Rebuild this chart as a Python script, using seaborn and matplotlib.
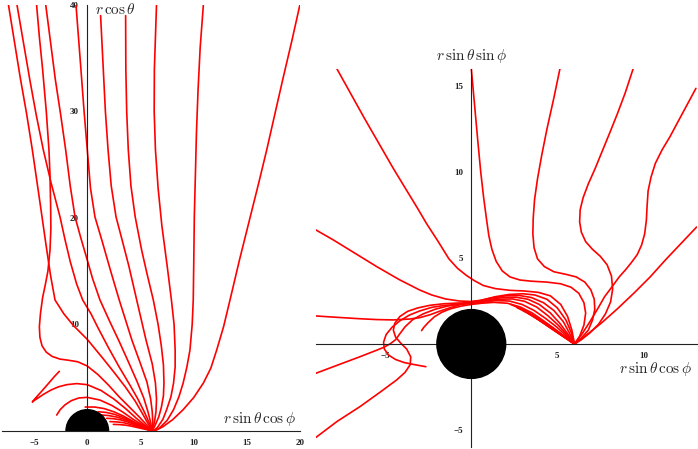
import numpy as np
import pandas as pd
import matplotlib
matplotlib.use('Agg')
import matplotlib.pyplot as plt
import seaborn as sns
from matplotlib.patches import Circle
from matplotlib.ticker import MultipleLocator, FixedLocator

# ── Left panel: r*sin(theta)*cos(phi) vs r*cos(theta) ─────────────────
left_r1 = [(6.1, 0), (6.6, 0.15), (7.1, 0.4), (8.0, 1.05), (9.0, 2.0), (10.0, 3.15),
           (10.9, 4.5), (11.6, 5.9), (12.15, 7.6), (12.8, 9.8), (13.4, 12.3), (14.3, 16.1),
           (15.3, 20.1), (16.1, 23.3), (16.85, 26.4), (17.6, 29.7), (18.4, 33.2),
           (19.2, 36.6), (19.96, 40)]
left_r2 = [(6.1, 0), (6.5, 0.1), (6.8, 0.3), (7.5, 1.0), (8.1, 2.0), (8.6, 3.2), (9.0, 4.5),
           (9.35, 6.0), (9.64, 7.6), (9.85, 10), (9.95, 12.3), (10.0, 16), (10.05, 20.1),
           (10.15, 24), (10.25, 28), (10.4, 32), (10.6, 36), (10.9, 40)]
left_r3 = [(6.1, 0), (6.35, 0.12), (6.6, 0.35), (7.1, 1.1), (7.45, 2.0), (7.85, 3.2),
           (8.1, 4.5), (8.25, 6.0), (8.25, 7.6), (8.15, 10.0), (7.9, 12.3), (7.5, 15.5),
           (7.0, 19.3), (6.65, 22.8), (6.4, 26.4), (6.28, 30), (6.3, 34), (6.4, 37), (6.5, 40)]
left_c7 = [(6.1, 0), (6.4, 0.6), (6.7, 1.3), (6.95, 2.2), (7.15, 3.3), (7.2, 4.5),
           (7.15, 6.2), (6.95, 8.0), (6.65, 10.0), (6.2, 12.3), (5.6, 14.8), (5.1, 17.0),
           (4.5, 20.1), (4.1, 23.0), (3.85, 26.4), (3.7, 30), (3.62, 34), (3.6, 39)]
left_c6 = [(6.1, 0), (6.3, 0.8), (6.45, 1.8), (6.5, 3.0), (6.4, 4.5), (6.1, 6.3),
           (5.5, 8.6), (4.64, 12.3), (3.9, 15.5), (3.2, 18.2), (2.7, 20.1), (2.25, 23),
           (1.95, 26.4), (1.7, 30), (1.5, 34), (1.25, 39)]
left_c5 = [(6.1, 0), (6.15, 0.8), (6.1, 1.8), (5.95, 3.0), (5.6, 4.6), (5.0, 6.3),
           (4.2, 8.5), (3.0, 12.3), (2.2, 15), (1.4, 17.8), (0.72, 20.1), (0.3, 22.8),
           (0, 26.4), (-0.3, 30), (-0.6, 34), (-1.06, 40)]
left_c4 = [(6.1, 0), (5.95, 0.8), (5.7, 1.8), (5.3, 3.1), (4.65, 4.7), (3.9, 6.4),
           (3.0, 8.4), (2.1, 10.3), (1.19, 12.3), (0.5, 14.3), (0, 16.05), (-0.6, 18.1),
           (-1.15, 20.1), (-1.6, 23), (-2.03, 26.4), (-2.5, 29.7), (-3.0, 33),
           (-3.45, 36.5), (-3.9, 40)]
left_c2 = [(6.1, 0), (5.8, 0.8), (5.35, 1.8), (4.75, 3.0), (3.95, 4.4), (3.0, 6.0),
           (2.0, 7.8), (1.0, 9.7), (0.35, 11.0), (-0.43, 12.3), (-1.0, 13.8), (-1.6, 15.9),
           (-2.1, 18.0), (-2.56, 20.1), (-3.4, 23.3), (-4.13, 26.4), (-4.8, 29.7),
           (-5.4, 33), (-6.0, 36.5), (-6.6, 40)]
left_c1 = [(6.1, 0), (5.7, 0.7), (5.2, 1.6), (4.5, 2.8), (3.6, 4.1), (2.6, 5.4), (1.4, 6.9),
           (0, 8.6), (-1.3, 9.9), (-2.2, 11.0), (-3.03, 12.3), (-3.45, 14.6), (-3.85, 17.3),
           (-4.45, 21.5), (-5.16, 26.4), (-5.7, 29.8), (-6.3, 33.2), (-6.85, 36.6),
           (-7.4, 40)]
left_c3 = [(6.1, 0), (5.6, 0.55), (4.9, 1.3), (4.0, 2.2), (3.0, 3.2), (2.0, 4.3),
           (1.0, 5.3), (0, 6.1), (-0.9, 6.5), (-1.8, 6.65), (-2.56, 6.75), (-3.3, 7.0),
           (-3.85, 7.4), (-4.25, 8.0), (-4.45, 8.8), (-4.5, 9.8), (-4.4, 11.0),
           (-4.2, 12.5), (-3.95, 13.7), (-3.7, 15.0), (-3.5, 17), (-3.42, 19),
           (-3.44, 21), (-3.5, 24), (-3.6, 26.4), (-3.85, 30), (-4.2, 34), (-4.5, 37),
           (-4.76, 40)]
left_hook = [(6.1, 0), (5.5, 0.45), (4.6, 1.2), (3.6, 2.1), (2.5, 3.0), (1.3, 3.8),
             (0, 4.35), (-1.0, 4.45), (-1.93, 4.35), (-2.7, 4.15), (-3.4, 3.85),
             (-4.1, 3.45), (-4.7, 3.05), (-5.1, 2.78), (-5.16, 2.72), (-4.9, 3.05),
             (-4.4, 3.6), (-3.7, 4.4), (-3.1, 5.1), (-2.63, 5.6)]
left_ca = [(6.1, 0), (5.3, 0.5), (4.3, 1.1), (3.3, 1.8), (2.3, 2.4), (1.2, 2.9),
           (0, 3.16), (-0.8, 3.1), (-1.5, 2.85), (-2.1, 2.45), (-2.55, 2.0), (-2.87, 1.5)]
left_cb = [(6.1, 0), (5.2, 0.45), (4.3, 0.9), (3.4, 1.4), (2.5, 1.8), (1.6, 2.1),
           (0.7, 2.25), (-0.2, 2.25)]
left_s1 = [(6.1, 0), (5.2, 0.42), (4.4, 0.8), (3.5, 1.22), (2.6, 1.55), (1.8, 1.74), (1.03, 1.81)]
left_s2 = [(6.1, 0), (5.3, 0.36), (4.5, 0.68), (3.6, 1.05), (2.8, 1.3), (2.0, 1.45), (1.35, 1.5)]
left_s3 = [(6.1, 0), (5.3, 0.3), (4.6, 0.55), (3.8, 0.85), (3.1, 1.05), (2.4, 1.16), (1.82, 1.19)]
left_s4 = [(6.1, 0), (5.4, 0.22), (4.8, 0.4), (4.0, 0.63), (3.4, 0.78), (2.7, 0.86), (2.13, 0.88)]
left_s5 = [(6.1, 0), (5.5, 0.15), (4.9, 0.28), (4.2, 0.44), (3.6, 0.55), (3.0, 0.6), (2.45, 0.62)]

left_curves = [left_r1, left_r2, left_r3, left_c7, left_c6, left_c5, left_c4, left_c2,
               left_c1, left_c3, left_hook, left_ca, left_cb,
               left_s1, left_s2, left_s3, left_s4, left_s5]

# ── Right panel: r*sin(theta)*cos(phi) vs r*sin(theta)*sin(phi) ───────
right_r1 = [(6.0, 0), (6.8, 0.6), (7.6, 1.25), (8.5, 2.05), (9.5, 3.0), (10.4, 3.9),
            (11.3, 4.9), (12.2, 5.85), (13.1, 6.8)]
right_r2 = [(6.0, 0), (6.45, 0.6), (6.9, 1.3), (7.35, 2.05), (7.75, 2.75), (8.2, 3.35),
            (8.6, 3.9), (9.0, 4.35), (9.32, 4.75), (9.65, 5.2), (9.9, 5.75), (10.08, 6.4),
            (10.18, 7.2), (10.22, 8.0), (10.28, 8.9), (10.45, 9.7), (10.7, 10.5),
            (11.1, 11.3), (11.55, 12.05), (12.3, 13.45), (13.06, 14.86)]
right_r3 = [(6.0, 0), (6.4, 0.25), (6.9, 0.65), (7.4, 1.15), (7.8, 1.75), (8.1, 2.45),
            (8.22, 3.2), (8.15, 3.95), (7.9, 4.6), (7.5, 5.1), (7.05, 5.5), (6.65, 5.95),
            (6.4, 6.5), (6.3, 7.1), (6.33, 7.8), (6.5, 8.5), (6.8, 9.3), (7.2, 10.2),
            (7.65, 11.3), (8.06, 12.3), (8.5, 13.4), (8.95, 14.6), (9.42, 16.03)]
right_r4 = [(6.0, 0), (6.4, 0.35), (6.8, 0.8), (7.05, 1.4), (7.18, 2.0), (7.15, 2.6),
            (6.95, 3.15), (6.6, 3.6), (6.1, 3.9), (5.5, 4.05), (4.8, 4.2), (4.25, 4.5),
            (3.85, 4.95), (3.65, 5.6), (3.58, 6.4), (3.6, 7.3), (3.68, 8.4), (3.85, 9.6),
            (4.1, 11), (4.4, 12.5), (4.8, 14.3), (5.16, 16.03)]
right_r5 = [(6.0, 0), (6.3, 0.45), (6.55, 1.1), (6.65, 1.8), (6.55, 2.4), (6.25, 2.95),
            (5.8, 3.3), (5.2, 3.5), (4.38, 3.6), (3.5, 3.65), (2.83, 3.72), (2.25, 3.9),
            (1.8, 4.25), (1.45, 4.8), (1.2, 5.5), (1.02, 6.3), (0.88, 7.3), (0.72, 8.5),
            (0.55, 10.0), (0.38, 11.8), (0.2, 13.8), (0, 16.03)]
right_l1 = [(6.0, 0), (5.85, 0.8), (5.6, 1.6), (5.2, 2.3), (4.6, 2.8), (3.9, 3.0),
            (3.1, 3.08), (2.25, 3.12), (1.4, 3.22), (0.7, 3.4), (0.15, 3.7), (-0.3, 4.0),
            (-0.8, 4.4), (-1.3, 4.95), (-1.92, 5.95), (-2.6, 7.0), (-3.1, 7.85),
            (-4.53, 10.2), (-6.2, 13.1), (-7.83, 16.03)]
right_l2 = [(6.0, 0), (5.8, 0.7), (5.5, 1.4), (5.0, 2.1), (4.4, 2.6), (3.7, 2.85),
            (3.0, 2.92), (2.2, 2.88), (1.4, 2.75), (0.6, 2.55), (0, 2.47), (-0.7, 2.5),
            (-1.5, 2.62), (-2.3, 2.85), (-3.0, 3.14), (-4.2, 3.75), (-5.5, 4.5),
            (-6.8, 5.3), (-8.02, 6.05), (-9.03, 6.63)]
right_l3 = [(6.0, 0), (5.7, 0.65), (5.35, 1.3), (4.8, 1.95), (4.2, 2.4), (3.5, 2.7),
            (2.8, 2.82), (2.0, 2.8), (1.2, 2.68), (0.5, 2.52), (0, 2.45), (-0.6, 2.3),
            (-1.2, 2.12), (-1.8, 1.92), (-2.4, 1.7), (-3.0, 1.53), (-3.6, 1.45),
            (-4.53, 1.4), (-5.5, 1.42), (-6.5, 1.47), (-7.8, 1.55), (-9.03, 1.63)]
right_l4 = [(6.0, 0), (5.6, 0.6), (5.15, 1.2), (4.6, 1.8), (3.95, 2.3), (3.3, 2.6),
            (2.6, 2.72), (1.8, 2.7), (1.0, 2.58), (0, 2.4), (-0.7, 2.33), (-1.4, 2.2),
            (-2.1, 2.02), (-2.8, 1.75), (-3.4, 1.42), (-3.85, 1.0), (-4.15, 0.6),
            (-4.4, 0.25), (-4.7, 0.02), (-5.1, -0.2), (-5.6, -0.4), (-6.47, -0.74),
            (-7.7, -1.2), (-9.03, -1.7)]
right_l5 = [(6.0, 0), (5.55, 0.55), (5.05, 1.1), (4.45, 1.65), (3.8, 2.15), (3.1, 2.48),
            (2.4, 2.62), (1.6, 2.6), (0.8, 2.5), (0, 2.4), (-0.8, 2.38), (-1.6, 2.34),
            (-2.4, 2.25), (-3.1, 2.1), (-3.7, 1.9), (-4.15, 1.6), (-4.45, 1.2),
            (-4.53, 0.8), (-4.4, 0.4), (-4.1, 0.05), (-3.75, -0.3), (-3.52, -0.75),
            (-3.55, -1.2), (-3.85, -1.65), (-4.34, -2.09), (-5.3, -2.8), (-6.47, -3.64),
            (-7.8, -4.5), (-9.03, -5.43)]
right_l6 = [(6.0, 0), (5.5, 0.5), (4.95, 1.0), (4.3, 1.5), (3.65, 1.95), (2.95, 2.3),
            (2.2, 2.5), (1.4, 2.52), (0.6, 2.42), (0, 2.35), (-0.7, 2.3), (-1.5, 2.25),
            (-2.3, 2.13), (-3.0, 1.92), (-3.6, 1.68), (-4.15, 1.35), (-4.6, 0.98),
            (-4.95, 0.55), (-5.1, 0.1), (-5.05, -0.3), (-4.8, -0.65), (-4.4, -0.9),
            (-3.9, -1.08), (-3.3, -1.2), (-2.64, -1.32)]
right_l7 = [(6.0, 0), (5.45, 0.42), (4.85, 0.88), (4.2, 1.35), (3.55, 1.8), (2.85, 2.15),
            (2.1, 2.37), (1.3, 2.42), (0.6, 2.37), (0, 2.3), (-0.6, 2.2), (-1.2, 2.05),
            (-1.7, 1.85), (-2.15, 1.58), (-2.5, 1.25), (-2.75, 0.98), (-2.89, 0.78)]
right_s1 = [(6.0, 0), (5.1, 0.68), (4.1, 1.35), (3.2, 1.9), (2.3, 2.3)]
right_s2 = [(6.0, 0), (5.15, 0.6), (4.3, 1.18), (3.45, 1.72), (2.65, 2.12)]
right_s3 = [(6.0, 0), (5.25, 0.52), (4.5, 1.02), (3.75, 1.52), (3.0, 1.95)]
right_s4 = [(6.0, 0), (5.3, 0.46), (4.65, 0.9), (4.0, 1.35), (3.35, 1.75)]
right_s5 = [(6.0, 0), (5.4, 0.4), (4.85, 0.77), (4.25, 1.18), (3.7, 1.55)]

right_curves = [right_r1, right_r2, right_r3, right_r4, right_r5, right_l1, right_l2,
                right_l3, right_l4, right_l5, right_l6, right_l7,
                right_s1, right_s2, right_s3, right_s4, right_s5]

horizon_radius = 2


def to_frame(curves):
    rows = []
    for i, c in enumerate(curves):
        for j, (x, y) in enumerate(c):
            rows.append({'curve': i, 'step': j, 'x': x, 'y': y})
    return pd.DataFrame(rows)


def maple_axes(ax, xlim, ylim):
    ax.set_xlim(*xlim)
    ax.set_ylim(*ylim)
    for side in ['top', 'right']:
        ax.spines[side].set_visible(False)
    ax.spines['left'].set_position(('data', 0))
    ax.spines['bottom'].set_position(('data', 0))
    for side in ['left', 'bottom']:
        ax.spines[side].set_linewidth(0.8)
        ax.spines[side].set_color('#222222')
    ax.tick_params(which='major', direction='out', length=4, width=0.7, pad=2,
                   labelsize=6.5, colors='#222222')
    ax.tick_params(which='minor', direction='out', length=2.2, width=0.6)
    for lab in ax.get_xticklabels() + ax.get_yticklabels():
        lab.set_fontweight('bold')
        lab.set_fontfamily('Liberation Serif')
    ax.set_xlabel('')
    ax.set_ylabel('')
    ax.patch.set_alpha(0)


sns.set_style('white')
plt.rcParams['mathtext.fontset'] = 'cm'
line_kw = dict(units='curve', estimator=None, sort=False, color='red', lw=1.2)

fig = plt.figure(figsize=(6.98, 4.49), dpi=100)

# ── Left panel ────────────────────────────────────────────
ax1 = fig.add_axes([0.0030, 0.0401, 0.4272, 0.9488])
sns.lineplot(data=to_frame(left_curves), x='x', y='y', ax=ax1, **line_kw)
for l in ax1.lines:
    l.set_solid_joinstyle('round')
ax1.add_patch(Circle((0, 0), horizon_radius, color='black', zorder=3))
ax1.xaxis.set_major_locator(FixedLocator([-5, 0, 5, 10, 15, 20]))
ax1.xaxis.set_minor_locator(MultipleLocator(1))
ax1.yaxis.set_major_locator(FixedLocator([10, 20, 30, 40]))
ax1.yaxis.set_minor_locator(MultipleLocator(5))
maple_axes(ax1, (-8, 20), (0, 40))
ax1.text(0.75, 39.55, r'$r\,\cos\theta$', fontsize=11, ha='left', va='center', clip_on=False)
ax1.text(19.6, 1.1, r'$r\,\sin\theta\,\cos\phi$', fontsize=11, ha='right', va='center')

# ── Right panel ───────────────────────────────────────────
ax2 = fig.add_axes([0.4534, 0.0040, 0.5446, 0.8428])
sns.lineplot(data=to_frame(right_curves), x='x', y='y', ax=ax2, **line_kw)
for l in ax2.lines:
    l.set_solid_joinstyle('round')
ax2.add_patch(Circle((0, 0), horizon_radius, color='black', zorder=3))
ax2.xaxis.set_major_locator(FixedLocator([-5, 5, 10]))
ax2.xaxis.set_minor_locator(MultipleLocator(1))
ax2.yaxis.set_major_locator(FixedLocator([-5, 5, 10, 15]))
ax2.yaxis.set_minor_locator(MultipleLocator(1))
maple_axes(ax2, (-9, 13.1), (-6, 16))
ax2.text(0.0, 16.75, r'$r\,\sin\theta\,\sin\phi$', fontsize=11, ha='center', va='center',
         clip_on=False)
ax2.text(12.85, -1.45, r'$r\,\sin\theta\,\cos\phi$', fontsize=11, ha='right', va='center')

fig.savefig('out.png', dpi=100)
